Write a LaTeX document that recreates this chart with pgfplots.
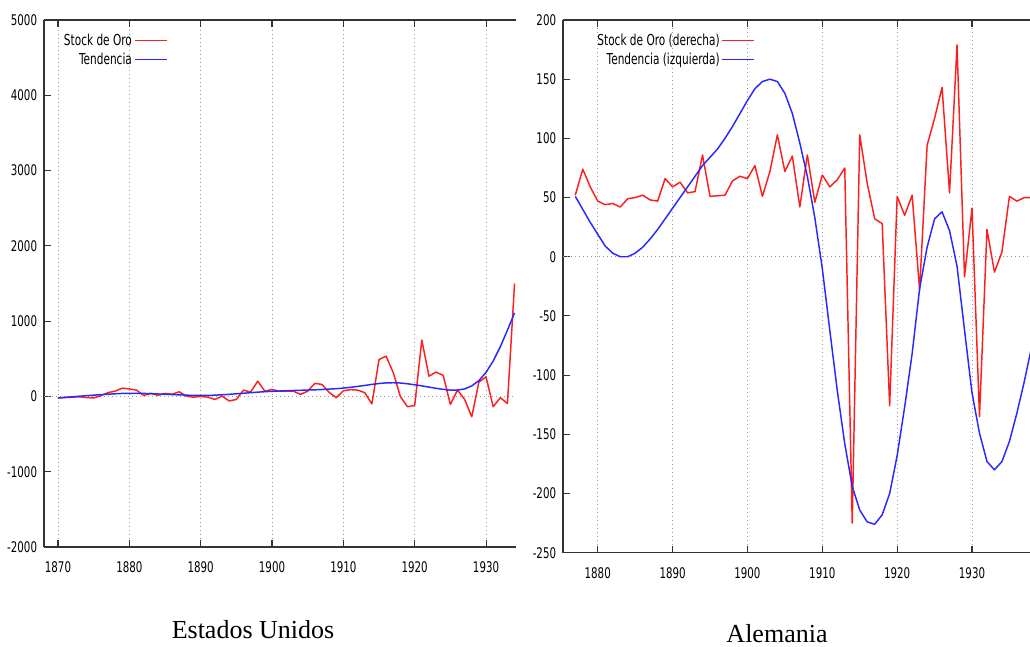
\documentclass[border=0pt]{standalone}
\usepackage{pgfplots}
\usepackage{pgfplotstable}
\pgfplotsset{compat=1.18}
\usepackage{fontspec}
\setmainfont{Liberation Serif}
\newfontfamily\tickfont[FakeStretch=0.7]{DejaVu Sans}
\definecolor{gred}{RGB}{255,30,30}
\definecolor{gblue}{RGB}{40,40,255}

\pgfplotstableread{
year val
1870 -20
1871 -15
1872 -10
1873 -5
1874 -15
1875 -20
1876 10
1877 50
1878 70
1879 110
1880 100
1881 84
1882 13
1883 40
1884 15
1885 40
1886 30
1887 62
1888 4
1889 -10
1890 0
1891 -10
1892 -40
1893 4
1894 -60
1895 -40
1896 84
1897 57
1898 203
1899 70
1900 93
1901 70
1902 70
1903 70
1904 27
1905 70
1906 173
1907 160
1908 55
1909 -17
1910 75
1911 90
1912 84
1913 50
1914 -100
1915 490
1916 535
1917 314
1918 -4
1919 -137
1920 -120
1921 748
1922 270
1923 323
1924 279
1925 -106
1926 84
1927 -40
1928 -270
1929 190
1930 261
1931 -137
1932 -17
1933 -93
1934 1500
}\usstock

\pgfplotstableread{
year val
1870 -20
1871 -12
1872 -5
1873 3
1874 10
1875 17
1876 24
1877 30
1878 35
1879 40
1880 42
1881 42
1882 40
1883 37
1884 33
1885 29
1886 25
1887 21
1888 17
1889 14
1890 13
1891 14
1892 17
1893 22
1894 28
1895 35
1896 42
1897 50
1898 57
1899 63
1900 68
1901 72
1902 76
1903 79
1904 82
1905 85
1906 88
1907 92
1908 97
1909 103
1910 111
1911 121
1912 133
1913 146
1914 160
1915 172
1916 180
1917 182
1918 178
1919 168
1920 155
1921 140
1922 124
1923 108
1924 94
1925 84
1926 84
1927 100
1928 140
1929 210
1930 320
1931 470
1932 660
1933 880
1934 1110
}\ustrend

\pgfplotstableread{
year val
1877 52
1878 74
1879 59
1880 47
1881 44
1882 45
1883 42
1884 49
1885 50
1886 52
1887 48
1888 47
1889 66
1890 59
1891 63
1892 54
1893 55
1894 86
1895 51
1896 51.5
1897 52
1898 64
1899 68
1900 66
1901 77
1902 51
1903 72
1904 103
1905 72
1906 85
1907 42
1908 86
1909 46
1910 69
1911 59
1912 65
1913 75
1914 -225
1915 103
1916 62
1917 32
1918 28
1919 -126
1920 51
1921 35
1922 52
1923 -28
1924 94
1925 117
1926 143
1927 54
1928 179
1929 -17
1930 41
1931 -135
1932 23
1933 -13
1934 4
1935 51
1936 47
1937 50
1938 50
}\destock

\pgfplotstableread{
year val
1877 51
1878 40
1879 29
1880 19
1881 9
1882 3
1883 0
1884 0
1885 3
1886 8
1887 15
1888 23
1889 32
1890 41
1891 50
1892 59
1893 68
1894 77
1895 84
1896 91
1897 100
1898 110
1899 121
1900 132
1901 142
1902 148
1903 150
1904 148
1905 138
1906 121
1907 96
1908 68
1909 33
1910 -10
1911 -62
1912 -113
1913 -158
1914 -194
1915 -214
1916 -224
1917 -226
1918 -218
1919 -200
1920 -168
1921 -127
1922 -82
1923 -27
1924 8
1925 32
1926 38
1927 22
1928 -8
1929 -62
1930 -115
1931 -149
1932 -173
1933 -180
1934 -173
1935 -156
1936 -132
1937 -105
1938 -75
}\detrend

\pgfplotsset{
  gstyle/.style={
    scale only axis,
    axis x line*=box,
    axis y line*=left,
    axis line style={-, color=black!80, line width=0.8pt},
    every outer x axis line/.append style={-},
    every outer y axis line/.append style={-},
    every tick/.style={black!80, line width=0.8pt},
    tick align=inside,
    major tick length=5pt,
    xmajorgrids,
    major grid style={gray!80, line width=0.55pt, dash pattern=on 0.6pt off 2.4pt},
    tick label style={font=\fontsize{11}{13}\selectfont\tickfont},
    /pgf/number format/assume math mode=true,
    /pgf/number format/1000 sep={},
    /pgf/number format/fixed,
    scaled ticks=false,
    xticklabel style={anchor=north, inner sep=0pt, yshift=-11pt},
    yticklabel style={anchor=east, inner sep=0pt, xshift=-5pt},
    extra y ticks={0},
    extra y tick labels={},
    extra y tick style={ymajorgrids=true, major tick length=0pt},
    legend plot pos=right,
    legend cell align=right,
    legend image code/.code={\draw[##1, line width=1.1pt] (0pt,0pt) -- (24pt,0pt);},
    legend style={draw=none, fill=none, anchor=north east,
      font=\fontsize{11.3}{13}\selectfont\tickfont, inner sep=0pt, row sep=1pt,
      nodes={inner sep=1.5pt}},
    every axis plot/.append style={line width=1.1pt, line join=round},
  }
}

\begin{document}
\begin{tikzpicture}
\useasboundingbox (0pt,0pt) rectangle (772.5pt,-484.5pt);
\begin{axis}[gstyle, at={(33pt,-410.25pt)}, anchor=south west,
  width=354pt, height=395.25pt,
  xmin=1868.04, xmax=1934.2, ymin=-2000, ymax=5000,
  xtick={1870,1880,...,1930}, ytick={-2000,-1000,...,5000},
  legend style={at={(0.262,0.978)}}]
\addplot[gred] table[x=year,y=val] {\usstock};
\addlegendentry{Stock de Oro}
\addplot[gblue] table[x=year,y=val] {\ustrend};
\addlegendentry{Tendencia}
\end{axis}
\begin{axis}[gstyle, at={(422.25pt,-414.5pt)}, anchor=south west,
  width=350.25pt, height=399.5pt,
  xmin=1875.36, xmax=1937.75, ymin=-250, ymax=200,
  xtick={1880,1890,...,1930}, ytick={-250,-200,...,200},
  legend style={at={(0.412,0.978)}}]
\addplot[gred] table[x=year,y=val] {\destock};
\addlegendentry{Stock de Oro (derecha)}
\addplot[gblue] table[x=year,y=val] {\detrend};
\addlegendentry{Tendencia (izquierda)}
\end{axis}
\node[anchor=base, font=\fontsize{19.5}{22}\selectfont] at (189.75pt,-478.5pt) {Estados Unidos};
\node[anchor=base, font=\fontsize{19.5}{22}\selectfont] at (582.75pt,-481.5pt) {Alemania};
\end{tikzpicture}
\end{document}
